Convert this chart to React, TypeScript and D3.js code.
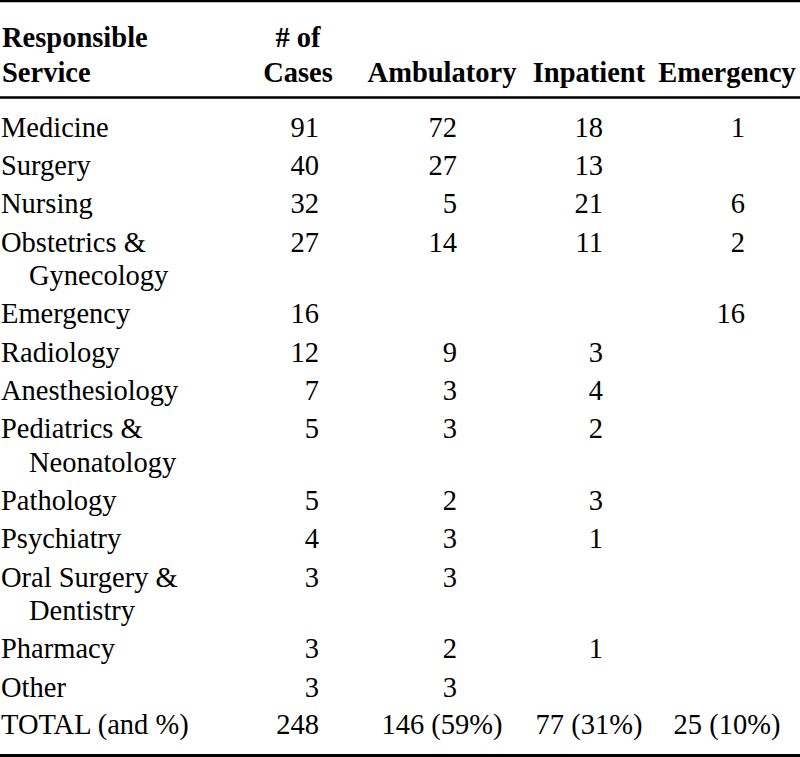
import React from "react";
import * as d3 from "d3";

const services: string[][] = [
  ["Medicine"],
  ["Surgery"],
  ["Nursing"],
  ["Obstetrics &", "Gynecology"],
  ["Emergency"],
  ["Radiology"],
  ["Anesthesiology"],
  ["Pediatrics &", "Neonatology"],
  ["Pathology"],
  ["Psychiatry"],
  ["Oral Surgery &", "Dentistry"],
  ["Pharmacy"],
  ["Other"],
];
const cases: (number | null)[] = [91, 40, 32, 27, 16, 12, 7, 5, 5, 4, 3, 3, 3];
const ambulatory: (number | null)[] = [72, 27, 5, 14, null, 9, 3, 3, 2, 3, 3, 2, 3];
const inpatient: (number | null)[] = [18, 13, 21, 11, null, 3, 4, 2, 3, 1, null, 1, null];
const emergency: (number | null)[] = [1, null, 6, 2, 16, null, null, null, null, null, null, null, null];
const totalLabel = "TOTAL (and %)";
const totals: string[] = ["248", "146 (59%)", "77 (31%)", "25 (10%)"];
const headers: string[][] = [
  ["Responsible", "Service"],
  ["# of", "Cases"],
  ["Ambulatory"],
  ["Inpatient"],
  ["Emergency"],
];

const W = 800;
const H = 757;
const FONT = "'Liberation Serif', 'Times New Roman', serif";
const FS = 28.5;
const ROW_STEP = 38.3;
const WRAP_STEP = 33.4;

export default function App() {
  // column geometry
  const numCols = [cases, ambulatory, inpatient, emergency];
  const rightEdge = d3.scaleOrdinal<number, number>().domain([0, 1, 2, 3]).range([319, 457, 603, 745]);
  const centerX = d3.scaleOrdinal<number, number>().domain([0, 1, 2, 3]).range([298, 442, 589, 727]);

  // row baselines computed cumulatively
  const baselines: number[] = [];
  let y = 136.7;
  services.forEach((s, i) => {
    baselines.push(y);
    y += ROW_STEP + (s.length - 1) * WRAP_STEP;
  });
  const totalY = y - 0.7;

  const fmt = d3.format("d");

  return (
    <div style={{ position: "absolute", left: 0, top: 0 }}>
      <svg width={W} height={H} style={{ display: "block", background: "#fff" }}>
        <rect x={0} y={0} width={W} height={H} fill="#fff" />
        <line x1={0} x2={W} y1={1} y2={1} stroke="#000" strokeWidth={2.6} />
        <line x1={0} x2={W} y1={97.5} y2={97.5} stroke="#000" strokeWidth={2.6} />
        <line x1={0} x2={W} y1={755.5} y2={755.5} stroke="#000" strokeWidth={2.8} />

        {/* headers */}
        <g fontFamily={FONT} fontSize={FS} fontWeight="bold" fill="#000">
          {headers[0].map((t, k) => (
            <text key={"h0" + k} x={2} y={46.7 + k * 35}>{t}</text>
          ))}
          {headers.slice(1).map((h, ci) =>
            h.map((t, k) => (
              <text
                key={"h" + ci + "_" + k}
                x={centerX(ci)}
                y={81.7 - (h.length - 1 - k) * 35}
                textAnchor="middle"
              >
                {t}
              </text>
            ))
          )}
        </g>

        {/* body */}
        <g fontFamily={FONT} fontSize={FS} fill="#000">
          {services.map((s, i) =>
            s.map((t, k) => (
              <text key={"s" + i + "_" + k} x={k === 0 ? 1 : 29} y={baselines[i] + k * WRAP_STEP}>
                {t}
              </text>
            ))
          )}
          {numCols.map((col, ci) =>
            col.map((v, i) =>
              v == null ? null : (
                <text key={"v" + ci + "_" + i} x={rightEdge(ci)} y={baselines[i]} textAnchor="end">
                  {fmt(v)}
                </text>
              )
            )
          )}
          <text x={1} y={totalY}>{totalLabel}</text>
          {totals.map((t, ci) => (
            <text
              key={"t" + ci}
              x={ci === 0 ? rightEdge(ci) : centerX(ci)}
              y={totalY}
              textAnchor={ci === 0 ? "end" : "middle"}
            >
              {t}
            </text>
          ))}
        </g>
      </svg>
    </div>
  );
}
